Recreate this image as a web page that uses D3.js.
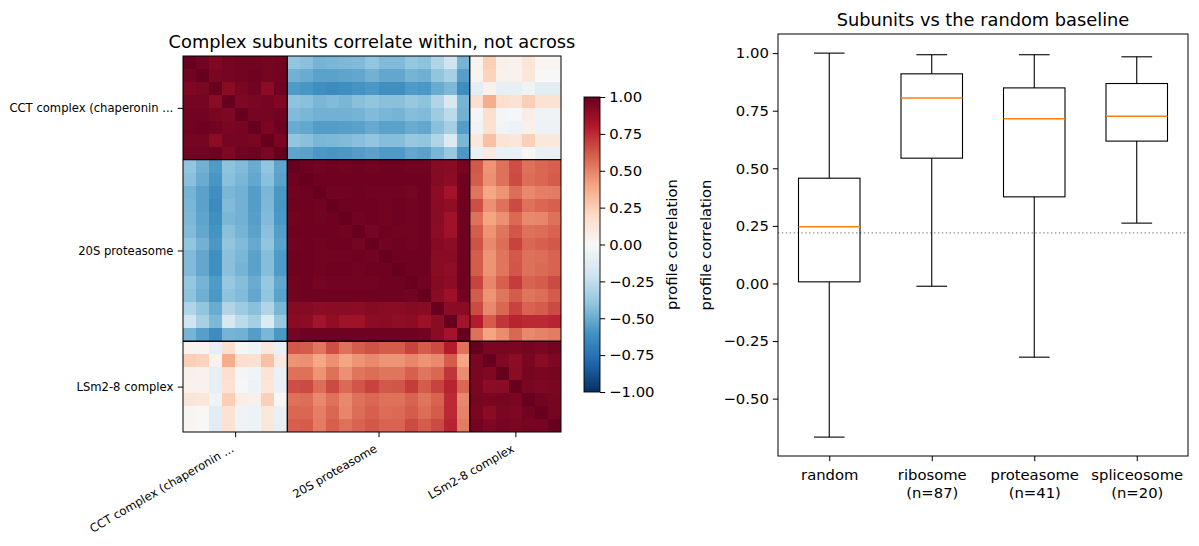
<!DOCTYPE html>
<html><head><meta charset="utf-8">
<script src="https://cdn.jsdelivr.net/npm/d3@7"></script>
<style>
body{margin:0;background:#fff}
svg text{font-family:"DejaVu Sans",sans-serif;fill:#000}
</style>
</head><body>
<svg id="chart" width="1199" height="546"></svg>
<script>
// ---------------- DATA ----------------
const complexes = ["CCT complex (chaperonin ...", "20S proteasome", "LSm2-8 complex"];
const complexSizes = [8, 14, 7];

const cctCct = [
 [1.00,0.97,0.93,0.96,0.97,0.97,0.96,0.97],
 [0.97,1.00,0.95,0.96,0.97,0.98,0.96,0.97],
 [0.93,0.95,1.00,0.91,0.95,0.97,0.90,0.98],
 [0.96,0.96,0.91,1.00,0.94,0.95,0.96,0.93],
 [0.97,0.97,0.95,0.94,1.00,0.96,0.96,0.97],
 [0.97,0.98,0.97,0.95,0.96,1.00,0.95,0.98],
 [0.96,0.96,0.90,0.96,0.96,0.95,1.00,0.95],
 [0.97,0.97,0.98,0.93,0.97,0.98,0.95,1.00]
];
const cctS20 = [
 [-0.40,-0.42,-0.47,-0.46,-0.45,-0.44,-0.40,-0.44,-0.44,-0.39,-0.41,-0.30,-0.20,-0.47],
 [-0.48,-0.50,-0.54,-0.54,-0.53,-0.52,-0.48,-0.52,-0.52,-0.47,-0.49,-0.40,-0.33,-0.55],
 [-0.57,-0.59,-0.62,-0.64,-0.62,-0.60,-0.58,-0.62,-0.62,-0.57,-0.58,-0.50,-0.45,-0.63],
 [-0.41,-0.42,-0.46,-0.44,-0.46,-0.42,-0.40,-0.42,-0.42,-0.38,-0.41,-0.30,-0.17,-0.47],
 [-0.44,-0.46,-0.48,-0.48,-0.48,-0.47,-0.44,-0.46,-0.47,-0.43,-0.44,-0.36,-0.27,-0.48],
 [-0.50,-0.52,-0.56,-0.56,-0.55,-0.54,-0.51,-0.54,-0.54,-0.50,-0.52,-0.42,-0.34,-0.56],
 [-0.40,-0.42,-0.46,-0.45,-0.44,-0.42,-0.40,-0.43,-0.43,-0.38,-0.40,-0.30,-0.14,-0.46],
 [-0.53,-0.54,-0.58,-0.59,-0.58,-0.56,-0.54,-0.57,-0.57,-0.52,-0.54,-0.46,-0.38,-0.58]
];
const cctLsm = [
 [ 0.03,0.25, 0.05, 0.04,0.13, 0.02, 0.02],
 [ 0.03,0.23, 0.04, 0.04,0.12, 0.00, 0.00],
 [-0.10,0.04,-0.09,-0.09,-0.04,-0.11,-0.11],
 [ 0.17,0.37, 0.17, 0.15,0.25, 0.15, 0.15],
 [-0.02,0.17,-0.02,-0.01,0.07,-0.04,-0.04],
 [-0.04,0.16,-0.03,-0.06,0.05,-0.06,-0.06],
 [ 0.11,0.30, 0.14, 0.12,0.24, 0.11, 0.11],
 [-0.07,0.10,-0.07,-0.07,0.01,-0.08,-0.08]
];
const s20S20 = [
 [1.00,0.98,0.97,0.98,0.97,0.98,0.97,0.98,0.98,0.97,0.97,0.92,0.91,0.96],
 [0.98,1.00,0.98,0.98,0.98,0.98,0.98,0.98,0.98,0.98,0.98,0.92,0.90,0.98],
 [0.97,0.98,1.00,0.97,0.97,0.98,0.97,0.97,0.97,0.96,0.98,0.90,0.84,0.98],
 [0.98,0.98,0.97,1.00,0.98,0.98,0.98,0.97,0.98,0.97,0.98,0.91,0.89,0.98],
 [0.97,0.98,0.97,0.98,1.00,0.97,0.98,0.97,0.98,0.97,0.98,0.91,0.85,0.98],
 [0.98,0.98,0.98,0.98,0.97,1.00,0.96,0.98,0.97,0.97,0.98,0.90,0.85,0.98],
 [0.97,0.98,0.97,0.98,0.98,0.96,1.00,0.97,0.98,0.97,0.98,0.92,0.90,0.98],
 [0.98,0.98,0.97,0.97,0.97,0.98,0.97,1.00,0.98,0.98,0.98,0.91,0.91,0.98],
 [0.98,0.98,0.97,0.98,0.98,0.97,0.98,0.98,1.00,0.98,0.98,0.91,0.89,0.98],
 [0.97,0.98,0.96,0.97,0.97,0.97,0.97,0.98,0.98,1.00,0.97,0.92,0.90,0.98],
 [0.97,0.98,0.98,0.98,0.98,0.98,0.98,0.98,0.98,0.97,1.00,0.91,0.86,0.97],
 [0.92,0.92,0.90,0.91,0.91,0.90,0.92,0.91,0.91,0.92,0.91,1.00,0.91,0.91],
 [0.91,0.90,0.84,0.89,0.85,0.85,0.90,0.91,0.89,0.90,0.86,0.91,1.00,0.84],
 [0.96,0.98,0.98,0.98,0.98,0.98,0.98,0.98,0.98,0.98,0.97,0.91,0.84,1.00]
];
const s20Lsm = [
 [0.62,0.45,0.55,0.65,0.55,0.58,0.60],
 [0.61,0.46,0.55,0.66,0.56,0.58,0.61],
 [0.54,0.39,0.45,0.56,0.48,0.51,0.52],
 [0.65,0.46,0.55,0.66,0.55,0.58,0.60],
 [0.55,0.40,0.46,0.57,0.48,0.49,0.55],
 [0.61,0.45,0.54,0.63,0.55,0.56,0.59],
 [0.64,0.48,0.56,0.68,0.58,0.60,0.62],
 [0.61,0.45,0.54,0.62,0.55,0.56,0.59],
 [0.61,0.45,0.54,0.63,0.55,0.57,0.59],
 [0.68,0.49,0.60,0.70,0.59,0.61,0.66],
 [0.61,0.45,0.54,0.61,0.54,0.56,0.61],
 [0.66,0.48,0.58,0.68,0.59,0.61,0.66],
 [0.79,0.61,0.72,0.77,0.75,0.75,0.77],
 [0.55,0.40,0.47,0.58,0.48,0.50,0.52]
];
const lsmLsm = [
 [1.00,0.95,0.95,0.95,0.96,0.95,0.97],
 [0.95,1.00,0.93,0.90,0.95,0.91,0.94],
 [0.95,0.93,1.00,0.91,0.96,0.95,0.96],
 [0.95,0.90,0.91,1.00,0.95,0.94,0.95],
 [0.96,0.95,0.96,0.95,1.00,0.97,0.96],
 [0.95,0.91,0.95,0.94,0.97,1.00,0.96],
 [0.97,0.94,0.96,0.95,0.96,0.96,1.00]
];
const colorbarTicks = [-1, -0.75, -0.5, -0.25, 0, 0.25, 0.5, 0.75, 1];

const boxGroups = ["random", "ribosome", "proteasome", "spliceosome"];
const boxCounts = [null, 87, 41, 20];
const whiskerLow  = [-0.667, -0.012, -0.320, 0.262];
const quart1      = [ 0.007,  0.544,  0.376, 0.618];
const medians     = [ 0.246,  0.805,  0.715, 0.726];
const quart3      = [ 0.457,  0.910,  0.849, 0.868];
const whiskerHigh = [ 1.000,  0.993,  0.993, 0.984];
const randomBaseline = 0.22;
const boxYTicks = [-0.5, -0.25, 0, 0.25, 0.5, 0.75, 1.0];

// ---------------- BUILD MATRIX ----------------
const blocks = {"0-0":cctCct,"0-1":cctS20,"0-2":cctLsm,"1-1":s20S20,"1-2":s20Lsm,"2-2":lsmLsm};
const starts = [0]; complexSizes.forEach((s,i)=>starts.push(starts[i]+s));
const N = starts[starts.length-1];
const blockOf = i => complexSizes.findIndex((s,k)=> i>=starts[k] && i<starts[k+1]);
const cells = [];
for (let i=0;i<N;i++) for (let j=0;j<N;j++){
  const a=blockOf(i), b=blockOf(j), ii=i-starts[a], jj=j-starts[b];
  const v = a<=b ? blocks[a+"-"+b][ii][jj] : blocks[b+"-"+a][jj][ii];
  cells.push({i,j,v});
}

// matplotlib RdBu_r
const rdbu = ["#053061","#2166ac","#4393c3","#92c5de","#d1e5f0","#f7f7f7","#fddbc7","#f4a582","#d6604d","#b2182b","#67001f"];
const color = d3.scaleLinear().domain(d3.range(11).map(k=>-1+k*0.2)).range(rdbu).interpolate(d3.interpolateRgb).clamp(true);

const svg = d3.select("#chart");
const fmt = d3.format(".2f");
const TITLE = "17.8px", TICK = "14.8px", SMALL = "11.6px", TL = 5.2;

// ---------------- HEATMAP ----------------
const hx0=183, hx1=561, hy0=56, hy1=432;
const xb = d3.scaleBand().domain(d3.range(N)).range([hx0,hx1]);
const yb = d3.scaleBand().domain(d3.range(N)).range([hy0,hy1]);
const xi = d3.scaleLinear().domain([0,N]).range([hx0,hx1]);
const yi = d3.scaleLinear().domain([0,N]).range([hy0,hy1]);

svg.append("g").selectAll("rect").data(cells).join("rect")
  .attr("x",d=>xb(d.j)).attr("y",d=>yb(d.i))
  .attr("width",xb.bandwidth()+0.4).attr("height",yb.bandwidth()+0.4)
  .attr("fill",d=>color(d.v)).attr("shape-rendering","crispEdges");

const seps = starts.slice(1,-1);
svg.append("g").selectAll("line.v").data(seps).join("line")
  .attr("x1",d=>xi(d)).attr("x2",d=>xi(d)).attr("y1",hy0).attr("y2",hy1)
  .attr("stroke","#000").attr("stroke-width",1.3);
svg.append("g").selectAll("line.h").data(seps).join("line")
  .attr("y1",d=>yi(d)).attr("y2",d=>yi(d)).attr("x1",hx0).attr("x2",hx1)
  .attr("stroke","#000").attr("stroke-width",1.3);
svg.append("rect").attr("x",hx0).attr("y",hy0).attr("width",hx1-hx0).attr("height",hy1-hy0)
  .attr("fill","none").attr("stroke","#000").attr("stroke-width",1);

const centers = complexSizes.map((s,k)=>starts[k]+s/2);
const yAx = svg.append("g").attr("transform",`translate(${hx0},0)`)
  .call(d3.axisLeft(yi).tickValues(centers).tickFormat((d,i)=>complexes[i]).tickSize(TL).tickPadding(4.5));
yAx.select(".domain").remove();
yAx.attr("font-family",null).attr("font-size",null);
yAx.selectAll("text").style("font-size",SMALL);
yAx.selectAll("line").attr("stroke","#000").attr("stroke-width",1);

const xAx = svg.append("g").attr("transform",`translate(0,${hy1})`)
  .call(d3.axisBottom(xi).tickValues(centers).tickFormat((d,i)=>complexes[i]).tickSize(TL));
xAx.select(".domain").remove();
xAx.attr("font-family",null).attr("font-size",null);
xAx.selectAll("line").attr("stroke","#000").attr("stroke-width",1);
xAx.selectAll("text").style("font-size",SMALL)
  .attr("x",null).attr("y",null).attr("dy",null)
  .attr("text-anchor","end").attr("transform","translate(-1,19) rotate(-30)");

svg.append("text").attr("x",(hx0+hx1)/2).attr("y",48).attr("text-anchor","middle")
  .style("font-size",TITLE).text("Complex subunits correlate within, not across");

// ---------------- COLORBAR ----------------
const cbx=584, cbw=16, cby0=97, cby1=392;
const grad = svg.append("defs").append("linearGradient").attr("id","cbgrad")
  .attr("x1","0").attr("y1","1").attr("x2","0").attr("y2","0");
rdbu.forEach((c,k)=>grad.append("stop").attr("offset",k/10).attr("stop-color",c));
svg.append("rect").attr("x",cbx).attr("y",cby0).attr("width",cbw).attr("height",cby1-cby0)
  .attr("fill","url(#cbgrad)").attr("stroke","#000").attr("stroke-width",0.9);
const cbScale = d3.scaleLinear().domain([-1,1]).range([cby1,cby0]);
const cbAx = svg.append("g").attr("transform",`translate(${cbx+cbw},0)`)
  .call(d3.axisRight(cbScale).tickValues(colorbarTicks).tickFormat(fmt).tickSize(TL).tickPadding(4));
cbAx.select(".domain").remove();
cbAx.attr("font-family",null).attr("font-size",null);
cbAx.selectAll("text").style("font-size",TICK);
cbAx.selectAll("line").attr("stroke","#000");
svg.append("text").attr("transform",`translate(677,${(cby0+cby1)/2}) rotate(-90)`)
  .attr("text-anchor","middle").style("font-size",TICK).text("profile correlation");

// ---------------- BOXPLOT ----------------
const bx0=778, bx1=1188, by0=34, by1=456;
const xs = d3.scaleLinear().domain([0.5,4.5]).range([bx0,bx1]);
const ys = d3.scaleLinear().domain([-0.749,1.083]).range([by1,by0]);
const halfW = 0.3, capHalf = 0.15;

svg.append("line").attr("x1",bx0).attr("x2",bx1).attr("y1",ys(randomBaseline)).attr("y2",ys(randomBaseline))
  .attr("stroke","#8c8c8c").attr("stroke-width",1.3).attr("stroke-dasharray","1.4,2.5");

const boxes = boxGroups.map((g,k)=>({g,k,pos:k+1,lo:whiskerLow[k],q1:quart1[k],med:medians[k],q3:quart3[k],hi:whiskerHigh[k]}));
const bg = svg.append("g").selectAll("g").data(boxes).join("g");
bg.append("line").attr("x1",d=>xs(d.pos)).attr("x2",d=>xs(d.pos)).attr("y1",d=>ys(d.q3)).attr("y2",d=>ys(d.hi)).attr("stroke","#000").attr("stroke-width",1.1);
bg.append("line").attr("x1",d=>xs(d.pos)).attr("x2",d=>xs(d.pos)).attr("y1",d=>ys(d.q1)).attr("y2",d=>ys(d.lo)).attr("stroke","#000").attr("stroke-width",1.1);
bg.append("line").attr("x1",d=>xs(d.pos-capHalf)).attr("x2",d=>xs(d.pos+capHalf)).attr("y1",d=>ys(d.hi)).attr("y2",d=>ys(d.hi)).attr("stroke","#000").attr("stroke-width",1.1);
bg.append("line").attr("x1",d=>xs(d.pos-capHalf)).attr("x2",d=>xs(d.pos+capHalf)).attr("y1",d=>ys(d.lo)).attr("y2",d=>ys(d.lo)).attr("stroke","#000").attr("stroke-width",1.1);
bg.append("rect").attr("x",d=>xs(d.pos-halfW)).attr("width",d=>xs(d.pos+halfW)-xs(d.pos-halfW))
  .attr("y",d=>ys(d.q3)).attr("height",d=>ys(d.q1)-ys(d.q3)).attr("fill","none").attr("stroke","#000").attr("stroke-width",1.1);
bg.append("line").attr("x1",d=>xs(d.pos-halfW)).attr("x2",d=>xs(d.pos+halfW)).attr("y1",d=>ys(d.med)).attr("y2",d=>ys(d.med))
  .attr("stroke","#ff7f0e").attr("stroke-width",1.4);

svg.append("rect").attr("x",bx0).attr("y",by0).attr("width",bx1-bx0).attr("height",by1-by0)
  .attr("fill","none").attr("stroke","#000").attr("stroke-width",1);

const byAx = svg.append("g").attr("transform",`translate(${bx0},0)`)
  .call(d3.axisLeft(ys).tickValues(boxYTicks).tickFormat(fmt).tickSize(TL).tickPadding(4));
byAx.select(".domain").remove();
byAx.attr("font-family",null).attr("font-size",null);
byAx.selectAll("text").style("font-size",TICK);
byAx.selectAll("line").attr("stroke","#000");

const bxAx = svg.append("g").attr("transform",`translate(0,${by1})`)
  .call(d3.axisBottom(xs).tickValues([1,2,3,4]).tickFormat("").tickSize(TL));
bxAx.select(".domain").remove();
bxAx.selectAll("line").attr("stroke","#000");
bxAx.selectAll(".tick").each(function(d,i){
  const t = d3.select(this).append("text").attr("text-anchor","middle").style("font-size",TICK);
  t.append("tspan").attr("x",0).attr("y",24).text(boxGroups[i]);
  if (boxCounts[i]!==null) t.append("tspan").attr("x",0).attr("y",41.5).text(`(n=${boxCounts[i]})`);
});

svg.append("text").attr("transform",`translate(711,${(by0+by1)/2}) rotate(-90)`)
  .attr("text-anchor","middle").style("font-size",TICK).text("profile correlation");
svg.append("text").attr("x",(bx0+bx1)/2).attr("y",26).attr("text-anchor","middle")
  .style("font-size",TITLE).text("Subunits vs the random baseline");
</script>
</body></html>
